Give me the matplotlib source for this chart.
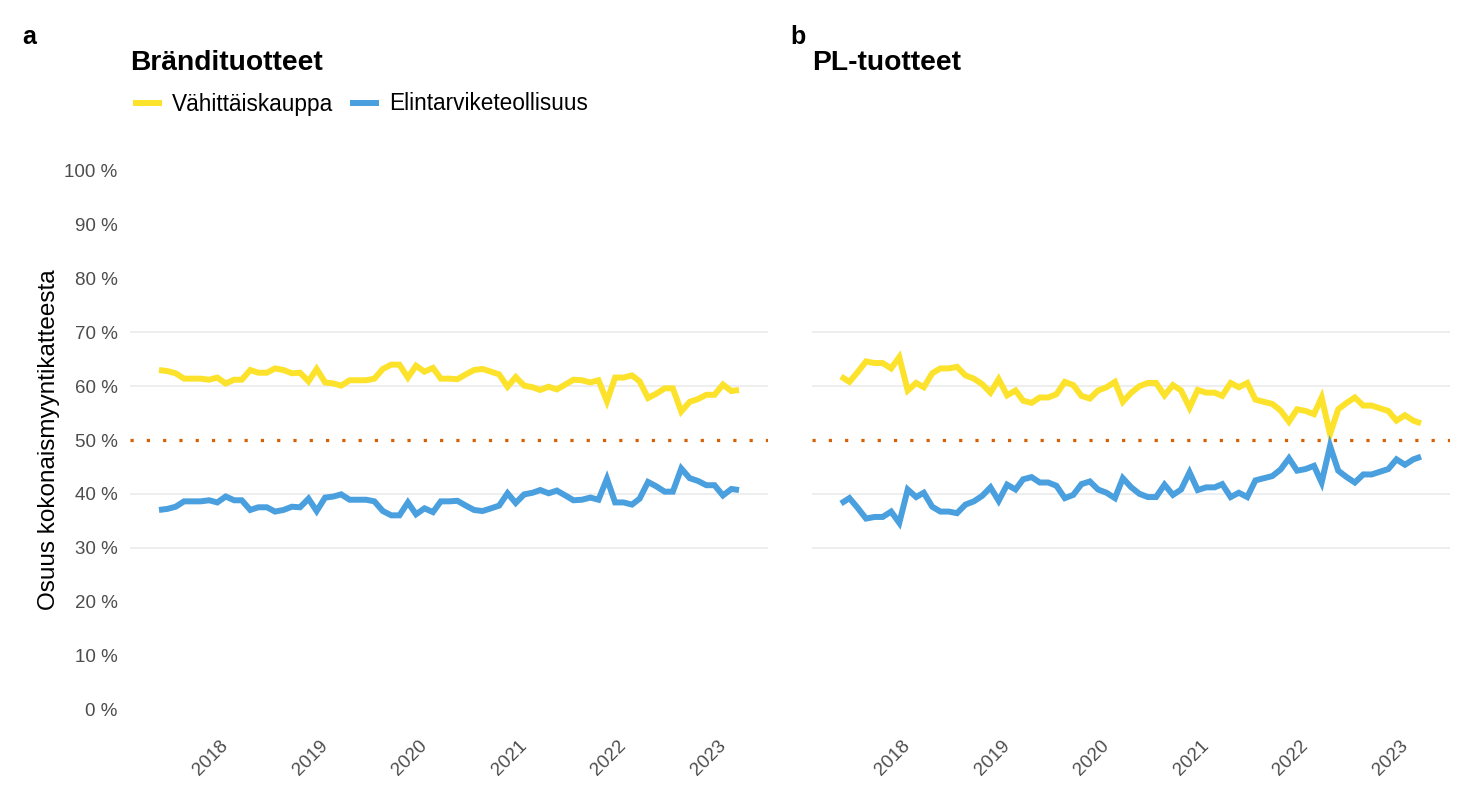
import matplotlib
matplotlib.use("Agg")
import matplotlib.pyplot as plt
import matplotlib.dates as mdates
import pandas as pd

plt.rcParams["font.family"] = ["Liberation Sans", "DejaVu Sans"]

months = pd.date_range("2017-05-01", periods=71, freq="MS")

# a: Brändituotteet
brand_retail = [
    63.0, 62.8, 62.4, 61.4, 61.4, 61.4, 61.2, 61.6, 60.5, 61.2, 61.2, 63.0,
    62.5, 62.5, 63.3, 63.0, 62.4, 62.5, 60.9, 63.2, 60.7, 60.5, 60.1, 61.1,
    61.1, 61.1, 61.4, 63.2, 64.0, 64.0, 61.6, 63.8, 62.7, 63.4, 61.4, 61.4,
    61.3, 62.2, 63.0, 63.2, 62.7, 62.2, 59.9, 61.7, 60.1, 59.8, 59.3, 59.9,
    59.4, 60.3, 61.2, 61.1, 60.7, 61.1, 57.2, 61.6, 61.6, 62.0, 60.9, 57.8,
    58.6, 59.6, 59.6, 55.3, 57.1, 57.6, 58.4, 58.4, 60.3, 59.1, 59.3,
]
brand_industry = [
    37.0, 37.2, 37.6, 38.6, 38.6, 38.6, 38.8, 38.4, 39.5, 38.8, 38.8, 37.0,
    37.5, 37.5, 36.7, 37.0, 37.6, 37.5, 39.1, 36.8, 39.3, 39.5, 39.9, 38.9,
    38.9, 38.9, 38.6, 36.8, 36.0, 36.0, 38.4, 36.2, 37.3, 36.6, 38.6, 38.6,
    38.7, 37.8, 37.0, 36.8, 37.3, 37.8, 40.1, 38.3, 39.9, 40.2, 40.7, 40.1,
    40.6, 39.7, 38.8, 38.9, 39.3, 38.9, 42.8, 38.4, 38.4, 38.0, 39.1, 42.2,
    41.4, 40.4, 40.4, 44.7, 42.9, 42.4, 41.6, 41.6, 39.7, 40.9, 40.7,
]

# b: PL-tuotteet
pl_retail = [
    61.8, 60.8, 62.6, 64.6, 64.3, 64.3, 63.3, 65.4, 59.2, 60.6, 59.8, 62.4,
    63.3, 63.3, 63.6, 62.0, 61.4, 60.4, 58.8, 61.3, 58.3, 59.2, 57.3, 56.9,
    57.9, 57.9, 58.5, 60.8, 60.2, 58.2, 57.7, 59.2, 59.8, 60.8, 57.1, 58.8,
    60.0, 60.6, 60.6, 58.3, 60.2, 59.2, 56.0, 59.3, 58.8, 58.8, 58.2, 60.6,
    59.8, 60.6, 57.5, 57.1, 56.7, 55.5, 53.4, 55.7, 55.4, 54.8, 57.9, 51.1,
    55.7, 56.9, 57.9, 56.4, 56.4, 55.9, 55.4, 53.6, 54.6, 53.6, 53.1,
]
pl_industry = [
    38.2, 39.2, 37.4, 35.4, 35.7, 35.7, 36.7, 34.6, 40.8, 39.4, 40.2, 37.6,
    36.7, 36.7, 36.4, 38.0, 38.6, 39.6, 41.2, 38.7, 41.7, 40.8, 42.7, 43.1,
    42.1, 42.1, 41.5, 39.2, 39.8, 41.8, 42.3, 40.8, 40.2, 39.2, 42.9, 41.2,
    40.0, 39.4, 39.4, 41.7, 39.8, 40.8, 44.0, 40.7, 41.2, 41.2, 41.8, 39.4,
    40.2, 39.4, 42.5, 42.9, 43.3, 44.5, 46.6, 44.3, 44.6, 45.2, 42.1, 48.9,
    44.3, 43.1, 42.1, 43.6, 43.6, 44.1, 44.6, 46.4, 45.4, 46.4, 46.9,
]

series_labels = ["Vähittäiskauppa", "Elintarviketeollisuus"]
panel_titles = ["Brändituotteet", "PL-tuotteet"]
panel_tags = ["a", "b"]
y_ticks = list(range(0, 101, 10))
y_ticklabels = [f"{v} %" for v in y_ticks]

YELLOW = "#FDE22B"
BLUE = "#4A9FDE"
ORANGE = "#D95F02"
GRID = "#EBEBEB"

W, H = 1472, 810
fig = plt.figure(figsize=(W / 100, H / 100), dpi=100)


def px_box(x0, y0, x1, y1):
    return [x0 / W, 1 - y1 / H, (x1 - x0) / W, (y1 - y0) / H]


axes = [fig.add_axes(px_box(130, 144, 768, 736)),
        fig.add_axes(px_box(812, 144, 1450, 736))]

data = [(brand_retail, brand_industry), (pl_retail, pl_industry)]
x0 = mdates.date2num(months[0])
x1 = mdates.date2num(months[-1])
span = x1 - x0

for i, ax in enumerate(axes):
    retail, industry = data[i]
    for g in [30, 40, 60, 70]:
        ax.axhline(g, color=GRID, lw=1.2, zorder=0)
    ax.axhline(50, color=ORANGE, lw=2.3, linestyle=(0, (1, 4.1)),
               dash_capstyle="butt", zorder=1)
    ax.plot(months, retail, color=YELLOW, lw=4.3, label=series_labels[0],
            solid_joinstyle="miter", solid_capstyle="butt", zorder=3)
    ax.plot(months, industry, color=BLUE, lw=4.3, label=series_labels[1],
            solid_joinstyle="miter", solid_capstyle="butt", zorder=3)

    ax.set_xlim(x0 - 0.05 * span, x1 + 0.05 * span)
    ax.set_ylim(-5, 105)
    ax.xaxis.set_major_locator(mdates.YearLocator())
    ax.xaxis.set_major_formatter(mdates.DateFormatter("%Y"))
    ax.tick_params(axis="x", length=0, pad=5, labelsize=13.5, labelcolor="#4D4D4D")
    for lab in ax.get_xticklabels():
        lab.set_rotation(45)
        lab.set_ha("right")
        lab.set_va("center")
        lab.set_rotation_mode("anchor")
    ax.set_yticks(y_ticks)
    if i == 0:
        ax.set_yticklabels(y_ticklabels)
        ax.tick_params(axis="y", length=0, pad=9, labelsize=13.5, labelcolor="#4D4D4D")
        ax.set_ylabel("Osuus kokonaismyyntikatteesta", fontsize=17.5, labelpad=3)
    else:
        ax.tick_params(axis="y", length=0, labelleft=False)
    for s in ax.spines.values():
        s.set_visible(False)

fig.text(22 / W, 1 - 44 / H, panel_tags[0], fontsize=18, fontweight="bold")
fig.text(790 / W, 1 - 44 / H, panel_tags[1], fontsize=18, fontweight="bold")
fig.text(130 / W, 1 - 70 / H, panel_titles[0], fontsize=20.3, fontweight="bold")
fig.text(812 / W, 1 - 70 / H, panel_titles[1], fontsize=20.3, fontweight="bold")

handles, labels = axes[0].get_legend_handles_labels()
fig.legend(handles, labels, loc="center left", bbox_to_anchor=(133 / W, 1 - 104 / H),
           ncol=2, frameon=False, fontsize=16.3, handlelength=1.27, handletextpad=0.45,
           columnspacing=0.75, borderpad=0, borderaxespad=0)

fig.savefig("out.png", dpi=100, facecolor="white")
